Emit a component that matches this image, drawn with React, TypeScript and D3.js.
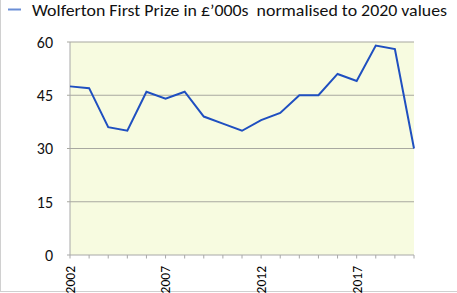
import React from "react";
import * as d3 from "d3";

const years = [2002, 2003, 2004, 2005, 2006, 2007, 2008, 2009, 2010, 2011, 2012, 2013, 2014, 2015, 2016, 2017, 2018, 2019, 2020];
const prizes = [47.5, 47, 36, 35, 46, 44, 46, 39, 37, 35, 38, 40, 45, 45, 51, 49, 59, 58, 30];
const yTicks = [0, 15, 30, 45, 60];
const xLabels = [2002, 2007, 2012, 2017];
const legendLabel = "Wolferton First Prize in £’000s  normalised to 2020 values";

const W = 457;
const H = 293;
const left = 70;
const right = 414;
const top = 42;
const bottom = 255;

export default function App() {
  const x = d3.scaleLinear().domain([2002, 2020]).range([left, right]);
  const y = d3.scaleLinear().domain([0, 60]).range([bottom, top]);
  const line = d3
    .line<number>()
    .x((_, i) => x(years[i]))
    .y((d) => y(d));
  const font = "Carlito, 'Open Sans', 'Liberation Sans', sans-serif";

  return (
    <svg
      width={W}
      height={H}
      style={{ position: "absolute", left: 0, top: 0, background: "#fff" }}
      fontFamily={font}
    >
      <rect x={0} y={0} width={W} height={H} fill="#fff" />
      <line x1={0.5} y1={0} x2={0.5} y2={291.5} stroke="#d0d0d0" />
      <line x1={0} y1={291.5} x2={W} y2={291.5} stroke="#d0d0d0" />
      <rect x={left} y={top} width={right - left} height={bottom - top} fill="#f7fbe0" />
      {yTicks.map((t) => (
        <g key={t}>
          {t > 0 && (
            <line x1={left - 3} x2={right} y1={y(t)} y2={y(t)} stroke="#a8a8a0" strokeWidth={1.2} />
          )}
          <text x={53} y={y(t)} dy="0.36em" textAnchor="end" fontSize={16} fill="#111">
            {t}
          </text>
        </g>
      ))}
      <line x1={left} x2={left} y1={top} y2={bottom} stroke="#a8a8a8" />
      <line x1={left - 3} x2={right} y1={bottom} y2={bottom} stroke="#a8a8a8" />
      {years.map((yr) => (
        <line key={yr} x1={x(yr)} x2={x(yr)} y1={bottom} y2={bottom + 3.5} stroke="#a8a8a8" />
      ))}
      {xLabels.map((yr) => (
        <text
          key={yr}
          transform={`translate(${x(yr)},${bottom + 11}) rotate(-90)`}
          textAnchor="end"
          dy="0.36em"
          fontSize={13.5}
          fill="#000"
          fontWeight={500}
        >
          {yr}
        </text>
      ))}
      <path d={line(prizes) || ""} fill="none" stroke="#1f4fc0" strokeWidth={2} strokeLinejoin="miter" />
      <line x1={8} x2={21} y1={9.5} y2={9.5} stroke="#6a8ed6" strokeWidth={2} />
      <text
        x={32}
        y={16}
        fontSize={17}
        fill="#111"
        textLength={415}
        lengthAdjust="spacingAndGlyphs"
        style={{ whiteSpace: "pre" }}
      >
        {legendLabel}
      </text>
    </svg>
  );
}
